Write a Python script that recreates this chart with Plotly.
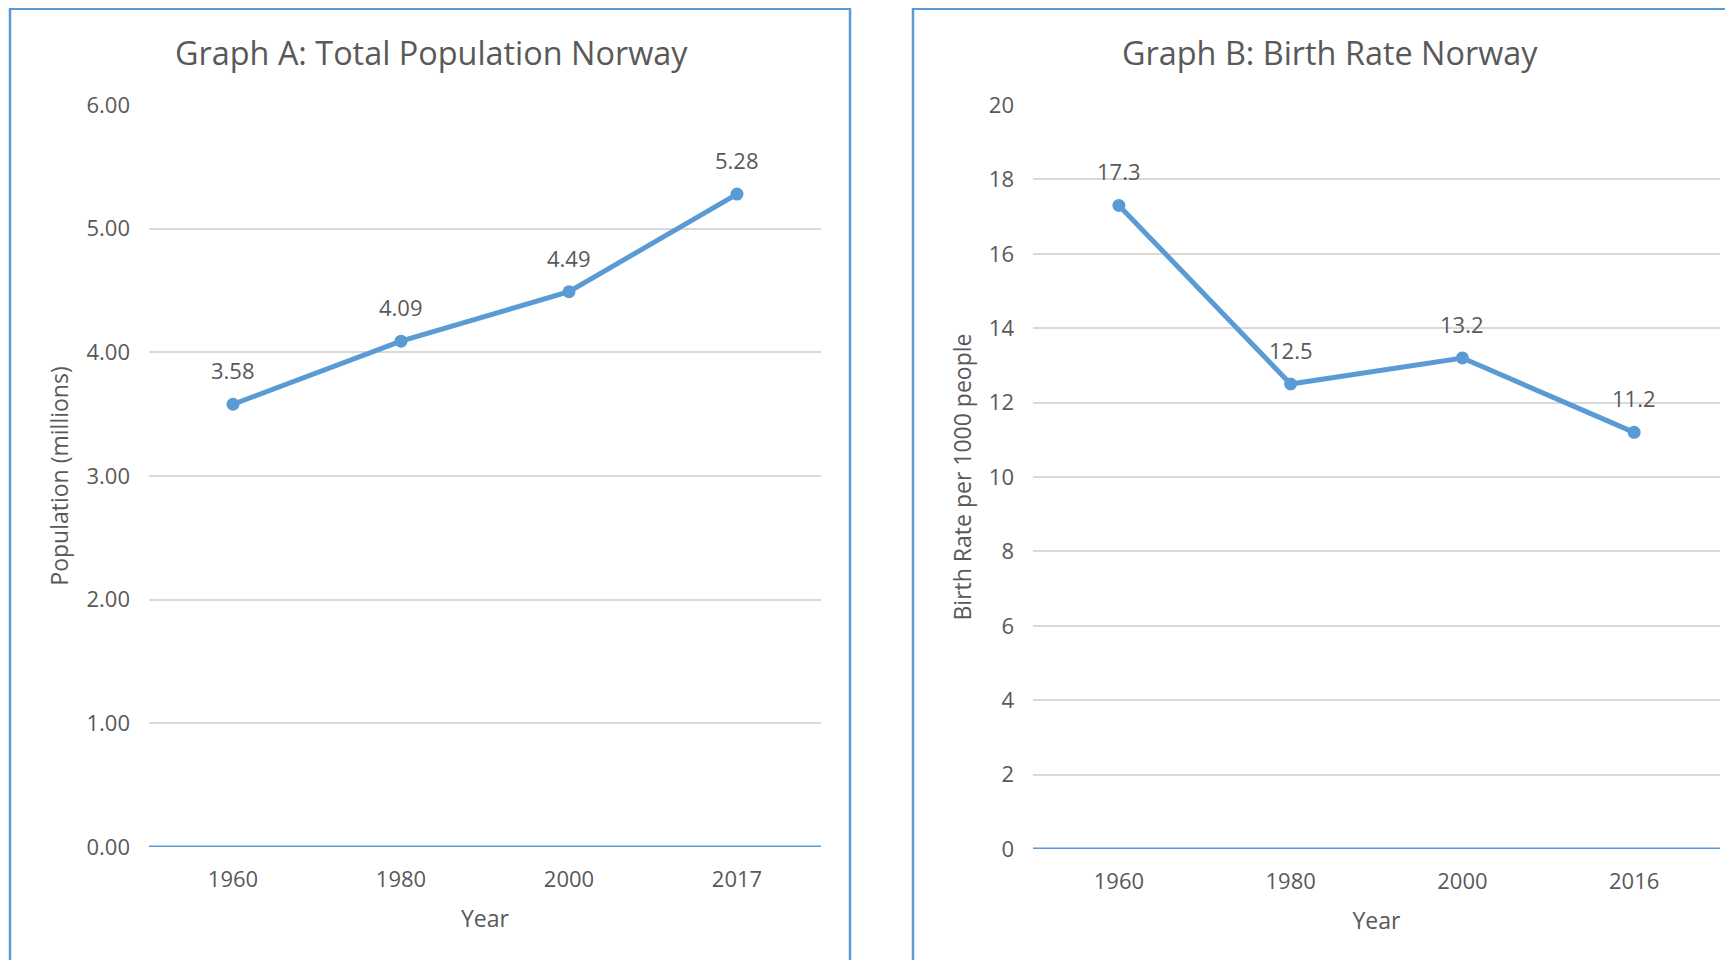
import plotly.graph_objects as go

# ---- data ----
years_a = ["1960", "1980", "2000", "2017"]
population_millions = [3.58, 4.09, 4.49, 5.28]
years_b = ["1960", "1980", "2000", "2016"]
birth_rate = [17.3, 12.5, 13.2, 11.2]

title_a = "Graph A: Total Population Norway"
title_b = "Graph B: Birth Rate Norway"
ytitle_a = "Population (millions)"
ytitle_b = "Birth Rate per 1000 people"
xtitle = "Year"

W, H = 1733, 960
OX, OY = 8, 8  # page body offset
BLUE = "#5B9BD5"
GREY_TXT = "#595959"
GRID = "#D9D9D9"
FONT = "Open Sans"

def px(x):
    return (x - OX) / W

def py(y):
    return 1 - (y - OY) / H

fig = go.Figure()

fig.add_trace(go.Scatter(
    x=years_a, y=population_millions, mode="lines+markers",
    line=dict(color=BLUE, width=5), marker=dict(color=BLUE, size=13),
    xaxis="x", yaxis="y", hoverinfo="skip", showlegend=False))
fig.add_trace(go.Scatter(
    x=years_b, y=birth_rate, mode="lines+markers",
    line=dict(color=BLUE, width=5), marker=dict(color=BLUE, size=13),
    xaxis="x2", yaxis="y2", hoverinfo="skip", showlegend=False))

annotations = []
for i, yv in enumerate(population_millions):
    annotations.append(dict(x=i, y=yv, xref="x", yref="y", text=f"{yv:.2f}",
                            showarrow=False, yshift=34,
                            font=dict(family=FONT, size=22, color=GREY_TXT)))
for i, yv in enumerate(birth_rate):
    annotations.append(dict(x=i, y=yv, xref="x2", yref="y2", text=f"{yv:.1f}",
                            showarrow=False, yshift=34,
                            font=dict(family=FONT, size=22, color=GREY_TXT)))

# titles
annotations.append(dict(x=px(431), y=py(52), xref="paper", yref="paper", text=title_a,
                        showarrow=False, xanchor="center", yanchor="middle",
                        font=dict(family=FONT, size=32.4, color=GREY_TXT)))
annotations.append(dict(x=px(1330), y=py(52), xref="paper", yref="paper", text=title_b,
                        showarrow=False, xanchor="center", yanchor="middle",
                        font=dict(family=FONT, size=32.4, color=GREY_TXT)))

axis_common = dict(
    showline=False, ticks="", zeroline=False, automargin=False,
    tickfont=dict(family=FONT, size=22, color=GREY_TXT),
    title_font=dict(family=FONT, size=23, color=GREY_TXT),
)

fig.update_layout(
    template="none",
    width=W, height=H,
    margin=dict(l=0, r=0, t=0, b=0, pad=0),
    paper_bgcolor="white", plot_bgcolor="white",
    annotations=annotations,
    xaxis=dict(domain=[px(149), px(821)], anchor="y", type="category",
               range=[-0.5, 3.5], showgrid=False, ticklabelstandoff=17,
               title=dict(text=xtitle, standoff=18), **axis_common),
    yaxis=dict(domain=[py(847), py(105)], anchor="x", range=[0, 6], dtick=1,
               tickformat=".2f", showgrid=True, gridcolor=GRID, gridwidth=2,
               title=dict(text=ytitle_a, standoff=11), ticklabelstandoff=18,
               **axis_common),
    xaxis2=dict(domain=[px(1033), px(1720)], anchor="y2", type="category",
                range=[-0.5, 3.5], showgrid=False, ticklabelstandoff=17,
                title=dict(text=xtitle, standoff=18), **axis_common),
    yaxis2=dict(domain=[py(849), py(105)], anchor="x2", range=[0, 20], dtick=2,
                showgrid=True, gridcolor=GRID, gridwidth=2,
                title=dict(text=ytitle_b, standoff=10), ticklabelstandoff=18,
                **axis_common),
    shapes=[
        dict(type="rect", xref="paper", yref="paper", x0=px(10), x1=px(850),
             y0=py(1100), y1=py(8.8), line=dict(color=BLUE, width=2.5)),
        dict(type="rect", xref="paper", yref="paper", x0=px(913), x1=px(1900),
             y0=py(1100), y1=py(8.8), line=dict(color=BLUE, width=2.5)),
        dict(type="line", xref="x domain", yref="y", x0=0, x1=1, y0=0, y1=0,
             line=dict(color=BLUE, width=2.8)),
        dict(type="line", xref="x2 domain", yref="y2", x0=0, x1=1, y0=0, y1=0,
             line=dict(color=BLUE, width=2.8)),
    ],
)

fig.write_html("out.html")
